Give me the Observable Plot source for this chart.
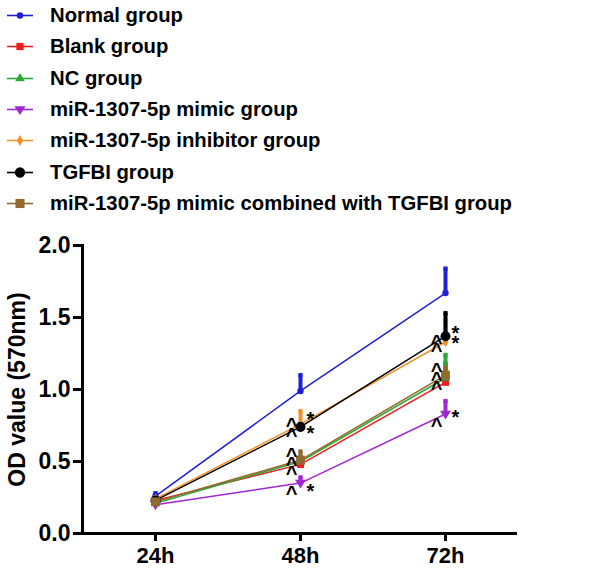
<!DOCTYPE html>
<html><head><meta charset="utf-8">
<script src="https://cdn.jsdelivr.net/npm/d3@7"></script>
<script src="https://cdn.jsdelivr.net/npm/@observablehq/plot@0.6"></script>
<style>
body{margin:0;background:#fff;font-family:"Liberation Sans",Arial,sans-serif;}
#legend{height:217px;}
.row{height:31.3px;display:flex;align-items:center;font-weight:bold;font-size:20.3px;color:#000;}
.row svg{width:50px;height:31px;flex:none;}
</style></head>
<body>
<div id="legend"></div>
<div id="chart"></div>
<script>
const times = ["24h", "48h", "72h"];
const groups = ["Normal group", "Blank group", "NC group", "miR-1307-5p mimic group",
  "miR-1307-5p inhibitor group", "TGFBI group", "miR-1307-5p mimic combined with TGFBI group"];
const colors = ["#1f1fd6", "#ee1c1c", "#2ea83a", "#a126d4", "#f0922b", "#000000", "#946a2c"];

// mean OD values (24h, 48h, 72h)
const normalMean    = [0.26, 0.99, 1.67];
const blankMean     = [0.23, 0.48, 1.05];
const ncMean        = [0.21, 0.50, 1.08];
const mimicMean     = [0.20, 0.35, 0.83];
const inhibitorMean = [0.24, 0.76, 1.33];
const tgfbiMean     = [0.23, 0.74, 1.37];
const combinedMean  = [0.22, 0.51, 1.10];
// upper error bar ends
const normalUpper    = [0.28, 1.10, 1.84];
const blankUpper     = [0.25, 0.53, 1.18];
const ncUpper        = [0.22, 0.53, 1.24];
const mimicUpper     = [0.21, 0.39, 0.92];
const inhibitorUpper = [0.25, 0.85, 1.48];
const tgfbiUpper     = [0.24, 0.76, 1.53];
const combinedUpper  = [0.23, 0.57, 1.15];

const symbols = ["circle", "square", "triangle", "triangleDown", "diamond", "circleBig", "squareBig"];

// significance annotations
const caretTime = ["48h", "48h", "48h", "48h", "48h", "48h", "72h", "72h", "72h", "72h", "72h", "72h"];
const caretY    = [0.785, 0.715, 0.576, 0.514, 0.451, 0.312, 1.36, 1.306, 1.167, 1.104, 1.042, 0.785];
const starTime  = ["48h", "48h", "48h", "72h", "72h", "72h"];
const starY     = [0.833, 0.736, 0.333, 1.43, 1.36, 0.847];

const means = [normalMean, blankMean, ncMean, mimicMean, inhibitorMean, tgfbiMean, combinedMean];
const uppers = [normalUpper, blankUpper, ncUpper, mimicUpper, inhibitorUpper, tgfbiUpper, combinedUpper];

const data = [];
groups.forEach((g, i) => times.forEach((t, j) => data.push({group: g, gi: i, time: t, mean: means[i][j], upper: uppers[i][j]})));
const carets = caretTime.map((t, i) => ({time: t, y: caretY[i]}));
const stars = starTime.map((t, i) => ({time: t, y: starY[i]}));

const triDown = {draw(ctx, size) { const r = Math.sqrt(size / 1.3); ctx.moveTo(-r, -r * 0.6); ctx.lineTo(r, -r * 0.6); ctx.lineTo(0, r); ctx.closePath(); }};
const symDef = {
  circle: {s: d3.symbolCircle, r: 3.2},
  square: {s: d3.symbolSquare, r: 4},
  triangle: {s: d3.symbolTriangle, r: 3.5},
  triangleDown: {s: triDown, r: 3.5},
  diamond: {s: d3.symbolDiamond, r: 3.2},
  circleBig: {s: d3.symbolCircle, r: 5},
  squareBig: {s: d3.symbolSquare, r: 5}
};

// legend
const legend = d3.select("#legend");
groups.forEach((g, i) => {
  const row = legend.append("div").attr("class", "row");
  const svg = row.append("svg");
  svg.append("line").attr("x1", 7).attr("x2", 33).attr("y1", 15.5).attr("y2", 15.5).attr("stroke", colors[i]).attr("stroke-width", 1.6);
  const sd = symDef[symbols[i]];
  svg.append("path").attr("transform", "translate(20,15.5)")
    .attr("d", d3.symbol(sd.s, sd.r * sd.r * 3.3)()).attr("fill", colors[i]);
  row.append("span").text(g);
});

const marks = [];
groups.forEach((g, i) => {
  const sub = data.filter(d => d.gi === i);
  marks.push(Plot.line(sub, {x: "time", y: "mean", stroke: colors[i], strokeWidth: 1.5}));
});
groups.forEach((g, i) => {
  const sub = data.filter(d => d.gi === i);
  const sd = symDef[symbols[i]];
  marks.push(Plot.ruleX(sub, {x: "time", y1: "mean", y2: "upper", stroke: colors[i], strokeWidth: 4}));
  marks.push(Plot.dot(sub, {x: "time", y: "upper", r: 2.4, symbol: "square", fill: colors[i]}));
  marks.push(Plot.dot(sub, {x: "time", y: "mean", r: sd.r, symbol: sd.s, fill: colors[i]}));
});

const chart = Plot.plot({
  width: 600,
  height: 354,
  marginLeft: 82,
  marginRight: 83,
  marginTop: 28,
  marginBottom: 38,
  style: {fontFamily: "'Liberation Sans', Arial, sans-serif", fontWeight: "bold", fontSize: "23px", background: "#fff", color: "#000"},
  x: {type: "point", domain: times, padding: 0.5},
  y: {domain: [0, 2]},
  marks: [
    ...marks,
    Plot.text(carets, {x: "time", y: "y", text: () => "^", dx: -9, dy: 5, fontSize: 20, fill: "#000"}),
    Plot.text(stars, {x: "time", y: "y", text: () => "*", dx: 10, dy: 6, fontSize: 20, fill: "#000"}),
    Plot.axisY({ticks: [0, 0.5, 1, 1.5, 2], tickFormat: d3.format(".1f"), tickSize: 9, tickPadding: 3, strokeWidth: 3, fontSize: 23,
      label: "OD value (570nm)", labelAnchor: "center", labelOffset: 74, labelArrow: "none"}),
    Plot.axisX({tickSize: 8, tickPadding: 6, strokeWidth: 3, fontSize: 22, label: null}),
    Plot.frame({anchor: "left", strokeWidth: 3}),
    Plot.ruleY([0], {strokeWidth: 3})
  ]
});
document.getElementById("chart").appendChild(chart);
</script>
</body></html>
